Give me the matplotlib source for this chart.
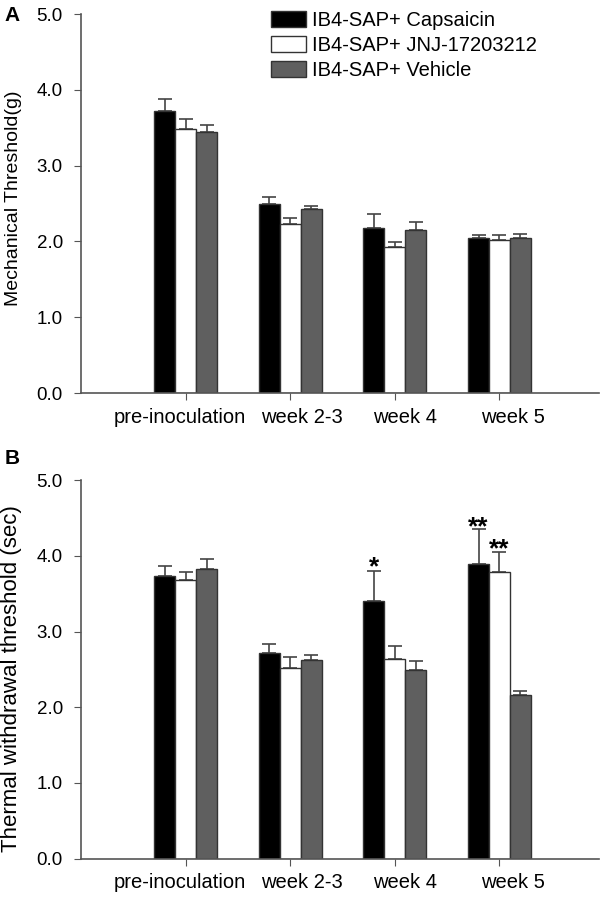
import numpy as np
import matplotlib
matplotlib.use("Agg")
import matplotlib.pyplot as plt
import matplotlib.transforms as mtransforms

plt.rcParams['font.family'] = ['Liberation Sans', 'DejaVu Sans']

# groups on the x axis
groups = ["pre-inoculation", "week 2-3", "week 4", "week 5"]
series = ["IB4-SAP+ Capsaicin", "IB4-SAP+ JNJ-17203212", "IB4-SAP+ Vehicle"]

# panel A: mechanical threshold (g), mean and SEM
mech_caps = [3.72, 2.49, 2.18, 2.04]
mech_caps_err = [0.16, 0.09, 0.18, 0.04]
mech_jnj = [3.48, 2.23, 1.93, 2.02]
mech_jnj_err = [0.13, 0.08, 0.06, 0.06]
mech_veh = [3.45, 2.43, 2.15, 2.04]
mech_veh_err = [0.08, 0.04, 0.11, 0.06]

# panel B: thermal withdrawal threshold (sec), mean and SEM
therm_caps = [3.73, 2.72, 3.40, 3.89]
therm_caps_err = [0.14, 0.11, 0.40, 0.46]
therm_jnj = [3.68, 2.52, 2.64, 3.79]
therm_jnj_err = [0.10, 0.14, 0.17, 0.26]
therm_veh = [3.82, 2.62, 2.49, 2.16]
therm_veh_err = [0.14, 0.07, 0.12, 0.06]

# significance marks in panel B: (group index, series index, text, y of the mark)
stars = [(2, 0, "*", 3.93), (3, 0, "**", 4.46), (3, 1, "**", 4.17)]

colors = ["black", "white", "#5f5f5f"]
edge = "#333333"
axcol = "#555555"
width = 0.2
x = np.arange(1, len(groups) + 1)
# the category labels in the original sit a little off their ticks (pixels)
label_shift = [-6, 12, 10, 14]


def draw_panel(ax, means, errs, ylabel, ysize, ycenter):
    for i, (m, e) in enumerate(zip(means, errs)):
        pos = x + (i - 1) * width
        ax.errorbar(pos, m, yerr=[np.zeros(len(m)), e], fmt="none",
                    ecolor="#444444", elinewidth=1.2, capsize=5, capthick=1.2, zorder=1)
        ax.bar(pos, m, width, color=colors[i], edgecolor=edge, linewidth=1.0,
               label=series[i], zorder=2)
    ax.set_xlim(0, 4.95)
    ax.set_ylim(0, 5.0)
    ax.set_yticks(np.arange(0, 5.01, 1.0))
    ax.set_yticklabels([f"{v:.1f}" for v in np.arange(0, 5.01, 1.0)])
    ax.set_xticks(x)
    ax.set_xticklabels([])
    # category names written by hand so they can sit off the ticks like the original
    trans = ax.get_xaxis_transform()
    for xi, name, dx in zip(x, groups, label_shift):
        off = mtransforms.ScaledTranslation(dx / 100, -24 / 100, ax.figure.dpi_scale_trans)
        ax.text(xi, 0, name, transform=trans + off, ha="center", va="center",
                fontsize=14.5)
    ax.set_ylabel(ylabel, fontsize=ysize)
    ax.yaxis.set_label_coords(-0.113, ycenter)
    for s in ["top", "right"]:
        ax.spines[s].set_visible(False)
    for s in ["left", "bottom"]:
        ax.spines[s].set_color(axcol)
        ax.spines[s].set_linewidth(1.2)
    ax.tick_params(axis="y", direction="out", length=5, color=axcol, labelsize=13.5, pad=8)
    ax.tick_params(axis="x", direction="out", length=5, color=axcol)


fig = plt.figure(figsize=(6.0, 8.99), dpi=100)
axA = fig.add_axes([0.135, 0.5628, 0.863, 0.4216])
axB = fig.add_axes([0.135, 0.0448, 0.863, 0.4212])

draw_panel(axA, [mech_caps, mech_jnj, mech_veh],
           [mech_caps_err, mech_jnj_err, mech_veh_err],
           "Mechanical Threshold(g)", 14, 0.515)
draw_panel(axB, [therm_caps, therm_jnj, therm_veh],
           [therm_caps_err, therm_jnj_err, therm_veh_err],
           "Thermal withdrawal threshold (sec)", 16, 0.475)

# the asterisk glyph sits high in its box, so lower the anchor a little
for g, s, txt, yv in stars:
    axB.text(x[g] + (s - 1) * width, yv - 0.08, txt, ha="center", va="center",
             fontsize=19, fontweight="bold")

axA.legend(loc="upper left", bbox_to_anchor=(0.34, 1.045), frameon=False,
           fontsize=14.5, handlelength=1.75, handleheight=0.8,
           handletextpad=0.3, labelspacing=0.3, borderpad=0.2)

fig.text(0.008, 0.983, "A", fontsize=15, fontweight="bold", va="center")
fig.text(0.008, 0.49, "B", fontsize=15, fontweight="bold", va="center")

fig.savefig("out.png", dpi=100)
